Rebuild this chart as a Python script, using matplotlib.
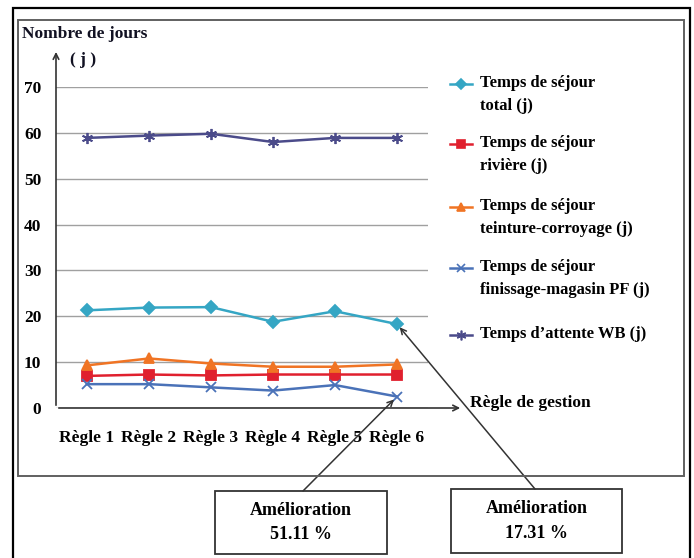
import matplotlib.pyplot as plt
from matplotlib.lines import Line2D
from matplotlib.patches import Rectangle

# données
regles = ['Règle 1', 'Règle 2', 'Règle 3', 'Règle 4', 'Règle 5', 'Règle 6']
sejour_total = [21.3, 21.9, 22.0, 18.8, 21.1, 18.3]
sejour_riviere = [7.0, 7.3, 7.1, 7.3, 7.3, 7.3]
sejour_teinture = [9.3, 10.8, 9.7, 9.0, 9.0, 9.5]
sejour_finissage = [5.2, 5.2, 4.5, 3.8, 5.0, 2.5]
attente_wb = [58.9, 59.4, 59.8, 58.0, 58.9, 58.9]

noms = ['Temps de séjour\ntotal (j)', 'Temps de séjour\nrivière (j)',
        'Temps de séjour\nteinture-corroyage (j)',
        'Temps de séjour\nfinissage-magasin PF (j)', 'Temps d\u2019attente WB (j)']
couleurs = ['#35A6C4', '#E0202E', '#F07424', '#4A72B8', '#4B4B8A']
marqueurs = ['D', 's', '^', 'x', (6, 2, 0)]
tailles = [6, 7, 7, 7, 8]
series = [sejour_total, sejour_riviere, sejour_teinture, sejour_finissage, attente_wb]

W, H = 694, 558
plt.rcParams['font.family'] = ['Liberation Serif', 'DejaVu Serif']
plt.rcParams['font.weight'] = 'bold'
fig = plt.figure(figsize=(W / 100, H / 100), dpi=100)


def px(x, y):
    return x / W, 1 - y / H


# cadres
fig.add_artist(Rectangle(px(13, 600), 677 / W, 592 / H, transform=fig.transFigure,
                         fill=False, ec='black', lw=1.6))
fig.add_artist(Rectangle(px(18, 476), 666 / W, 456 / H, transform=fig.transFigure,
                         fill=False, ec='#606060', lw=1.4))

ax = fig.add_axes([56 / W, 1 - 408 / H, 372 / W, 321 / H])
x = list(range(len(regles)))
for s, c, m, t in zip(series, couleurs, marqueurs, tailles):
    ax.plot(x, s, color=c, lw=1.8, marker=m, markersize=t, mec=c, mew=1.3, zorder=3)

ax.set_xlim(-0.5, 5.5)
ax.set_ylim(0, 70)
ax.set_yticks(range(0, 71, 10))
ax.set_xticks(x)
ax.set_xticklabels(regles)
ax.tick_params(length=0, labelsize=12.5, colors='black')
ax.tick_params(axis='y', pad=10.5)
ax.tick_params(axis='x', pad=16)
ax.grid(axis='y', color='#A0A0A0', lw=1)
ax.set_axisbelow(True)
for sp in ['top', 'right', 'left', 'bottom']:
    ax.spines[sp].set_visible(False)

# axes avec flèches
ax.annotate('', xy=(0, 1.118), xytext=(0, 0), xycoords='axes fraction',
            arrowprops=dict(arrowstyle='->', color='#333333', lw=1.2), annotation_clip=False)
ax.annotate('', xy=(1.094, 0), xytext=(0, 0), xycoords='axes fraction',
            arrowprops=dict(arrowstyle='->', color='#333333', lw=1.2), annotation_clip=False)

fig.text(*px(22, 34), 'Nombre de jours', fontsize=12.5, va='center', ha='left', color='#111122')
fig.text(*px(70, 60), '( j )', fontsize=12.5, va='center', ha='left', color='#111122')
fig.text(*px(470, 403), 'Règle de gestion', fontsize=12.5, va='center', ha='left')

# légende
leg_y = [84, 144, 207, 268, 335]
for nom, c, m, t, yy in zip(noms, couleurs, marqueurs, tailles, leg_y):
    x0, y0 = px(450, yy)
    x1, _ = px(472, yy)
    fig.add_artist(Line2D([x0, x1], [y0, y0], color=c, lw=1.8, transform=fig.transFigure))
    fig.add_artist(Line2D([(x0 + x1) / 2], [y0], color=c, marker=m, markersize=t - 1,
                          mec=c, mew=1.2, transform=fig.transFigure))
    fig.text(*px(480, yy - 9), nom, fontsize=12, va='top', ha='left', linespacing=1.55)

# encadrés d'amélioration
for (bx, by, bw, bh), txt, yv, ax0 in [((215, 491, 172, 63), 'Amélioration\n51.11 %', sejour_finissage[5], (303, 491)),
                                       ((451, 489, 171, 64), 'Amélioration\n17.31 %', sejour_total[5], (535, 489))]:
    fig.add_artist(Rectangle(px(bx, by + bh), bw / W, bh / H, transform=fig.transFigure,
                             fill=False, ec='#333333', lw=1.3))
    fig.text(*px(bx + bw / 2, by + bh / 2), txt, fontsize=13, ha='center', va='center',
             linespacing=1.6)
    ax.annotate('', xy=(5, yv), xycoords='data', xytext=px(*ax0), textcoords='figure fraction',
                arrowprops=dict(arrowstyle='->', color='#333333', lw=1.1,
                                shrinkA=0, shrinkB=3), annotation_clip=False)

fig.savefig('out.png', dpi=100)
